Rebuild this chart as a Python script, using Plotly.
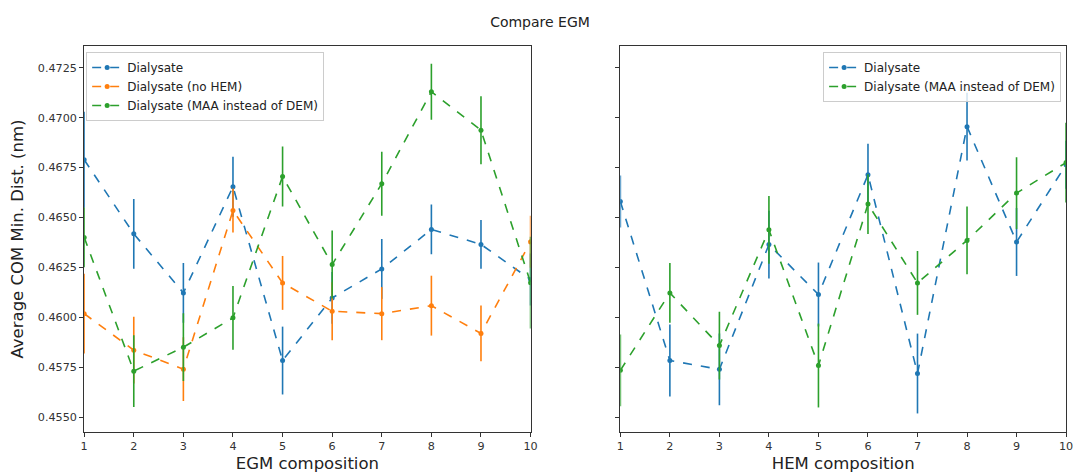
import plotly.graph_objects as go

x = [1, 2, 3, 4, 5, 6, 7, 8, 9, 10]

# Left panel: EGM composition
egm_dial = [0.46789, 0.46418, 0.46122, 0.46654, 0.45783, 0.46097, 0.46242, 0.46440, 0.46365, 0.46189]
egm_dial_err = [0.0024, 0.00175, 0.0015, 0.0015, 0.0017, 0.0013, 0.0015, 0.00125, 0.00122, 0.0013]
egm_nohem = [0.46018, 0.45835, 0.45740, 0.46535, 0.46172, 0.46030, 0.46018, 0.46058, 0.45919, 0.46378]
egm_nohem_err = [0.0020, 0.00167, 0.0016, 0.0011, 0.00135, 0.00145, 0.00133, 0.0015, 0.0014, 0.0013]
egm_maa = [0.46400, 0.45730, 0.45850, 0.45997, 0.46705, 0.46264, 0.46669, 0.47130, 0.46937, 0.46173]
egm_maa_err = [0.0015, 0.0018, 0.0017, 0.0016, 0.0015, 0.0017, 0.0016, 0.0014, 0.0017, 0.0023]

# Right panel: HEM composition
hem_dial = [0.46580, 0.45783, 0.45739, 0.46364, 0.46114, 0.46714, 0.45718, 0.46955, 0.46377, 0.46764]
hem_dial_err = [0.0013, 0.0018, 0.0018, 0.0017, 0.0016, 0.00155, 0.0020, 0.0017, 0.0017, 0.0012]
hem_maa = [0.45734, 0.46122, 0.45858, 0.46438, 0.45758, 0.46567, 0.46172, 0.46385, 0.46622, 0.46775]
hem_maa_err = [0.0018, 0.0015, 0.0017, 0.0017, 0.0021, 0.0015, 0.0016, 0.0017, 0.0018, 0.0020]

BLUE, ORANGE, GREEN = "#1f77b4", "#ff7f0e", "#2ca02c"
FONT = "DejaVu Sans"

fig = go.Figure()

def add(xv, yv, err, name, color, xa, ya, legend):
    fig.add_trace(go.Scatter(
        x=xv, y=yv, name=name, mode="lines+markers",
        line=dict(color=color, width=1.6, dash="dash"),
        marker=dict(color=color, size=5),
        error_y=dict(type="data", array=err, visible=True, color=color, thickness=1.6, width=0),
        xaxis=xa, yaxis=ya, legend=legend, cliponaxis=True,
    ))

add(x, egm_dial, egm_dial_err, "Dialysate", BLUE, "x", "y", "legend")
add(x, egm_nohem, egm_nohem_err, "Dialysate (no HEM)", ORANGE, "x", "y", "legend")
add(x, egm_maa, egm_maa_err, "Dialysate (MAA instead of DEM)", GREEN, "x", "y", "legend")
add(x, hem_dial, hem_dial_err, "Dialysate", BLUE, "x2", "y2", "legend2")
add(x, hem_maa, hem_maa_err, "Dialysate (MAA instead of DEM)", GREEN, "x2", "y2", "legend2")

yrange = [0.45425, 0.47359]
ytickvals = [0.4550, 0.4575, 0.4600, 0.4625, 0.4650, 0.4675, 0.4700, 0.4725]
ytext = ["0.4550", "0.4575", "0.4600", "0.4625", "0.4650", "0.4675", "0.4700", "0.4725"]
xticks = list(range(1, 11))

axis_common = dict(showline=True, mirror=True, linecolor="#333", linewidth=1,
                   ticks="outside", ticklen=4, tickcolor="#333", showgrid=False,
                   zeroline=False, tickfont=dict(family=FONT, size=11.2, color="#333"))
title_font = dict(family=FONT, size=16.5, color="#222")

fig.update_layout(
    width=1080, height=474,
    margin=dict(l=0, r=0, t=0, b=0),
    plot_bgcolor="white", paper_bgcolor="white",
    font=dict(family=FONT, color="#222"),
    title=dict(text="Compare EGM", x=0.5, xanchor="center", y=1 - 22/474, yanchor="middle",
               font=dict(family=FONT, size=14, color="#222")),
    xaxis=dict(domain=[81/1080, 532/1080], range=[1, 10], tickvals=xticks, anchor="y",
               title=dict(text="EGM composition", font=title_font, standoff=5),
               **axis_common),
    yaxis=dict(domain=[1 - 432/474, 1 - 46/474], range=yrange, tickvals=ytickvals, ticktext=ytext, anchor="x",
               title=dict(text="Average COM Min. Dist. (nm)", font=title_font, standoff=10),
               **axis_common),
    xaxis2=dict(domain=[622.7/1080, 1073/1080], range=[1, 10], tickvals=xticks, anchor="y2",
                title=dict(text="HEM composition", font=title_font, standoff=5),
                **axis_common),
    yaxis2=dict(domain=[1 - 432/474, 1 - 46/474], range=yrange, tickvals=ytickvals, anchor="x2",
                showticklabels=False, **axis_common),
    legend=dict(x=83/1080, y=1 - 52/474, xanchor="left", yanchor="top",
                bgcolor="rgba(255,255,255,0.8)", bordercolor="#ccc", borderwidth=1,
                font=dict(family=FONT, size=12, color="#222"), tracegroupgap=0, itemwidth=30),
    legend2=dict(x=1068/1080, y=1 - 52/474, xanchor="right", yanchor="top",
                 bgcolor="rgba(255,255,255,0.8)", bordercolor="#ccc", borderwidth=1,
                 font=dict(family=FONT, size=12, color="#222"), tracegroupgap=0, itemwidth=30),
)

fig.write_html("out.html")
